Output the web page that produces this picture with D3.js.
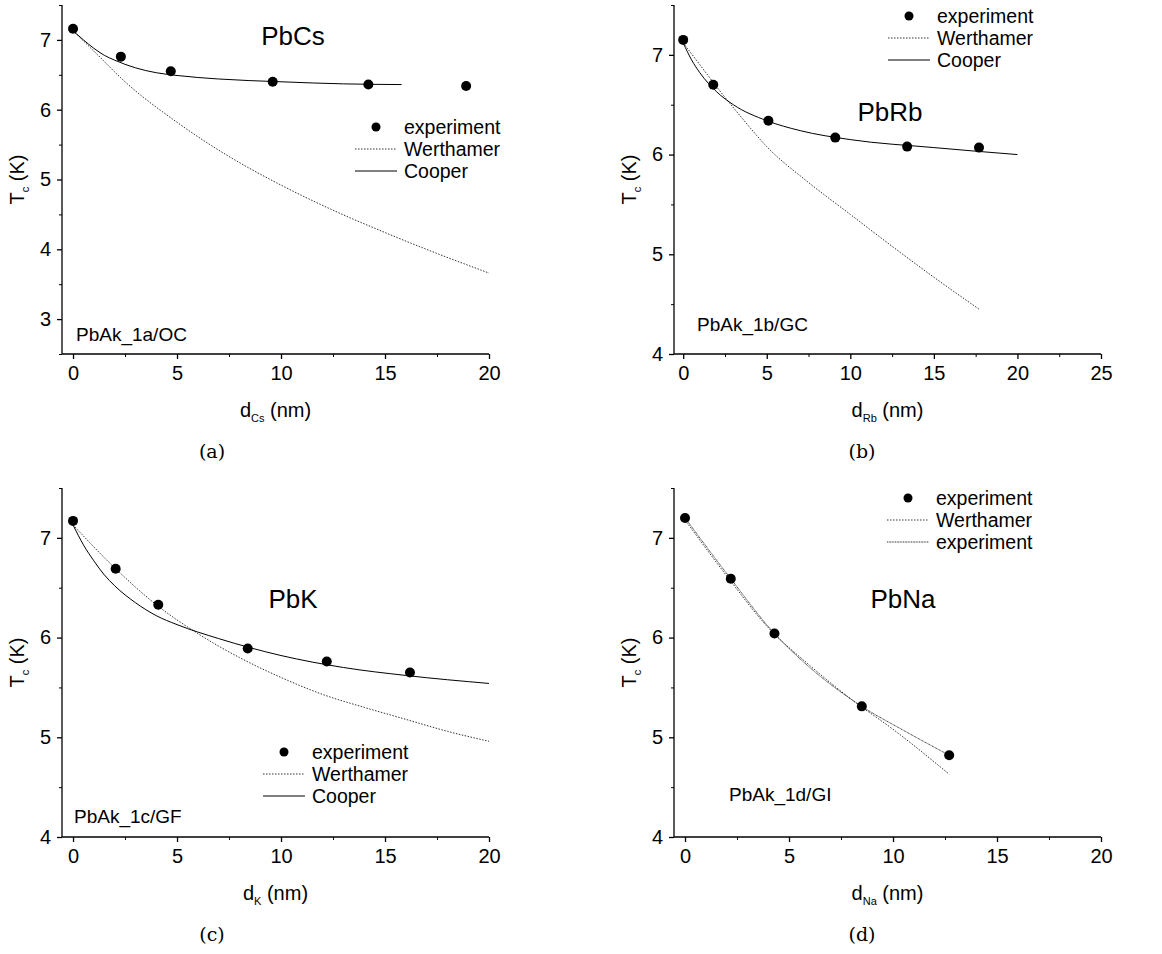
<!DOCTYPE html>
<html><head><meta charset="utf-8">
<script src="https://cdn.jsdelivr.net/npm/d3@7"></script>
<style>body{margin:0;background:#fff}</style>
</head><body>
<svg id="fig" width="1162" height="954"></svg>
<script>
// panel (a) PbCs
var expA = [[0,7.16],[2.3,6.76],[4.7,6.55],[9.6,6.40],[14.2,6.36],[18.9,6.34]];
var werA = [[0,7.13],[1,6.84],[2.5,6.4],[5,5.82],[7.5,5.33],[10,4.92],[12.5,4.56],[15,4.24],[17.5,3.94],[20,3.66]];
var coopA = [[0,7.13],[0.5,7.0],[1,6.88],[1.5,6.78],[2,6.71],[3,6.6],[4,6.53],[5,6.49],[7,6.44],[10,6.40],[13,6.37],[15.8,6.36]];
// panel (b) PbRb
var expB = [[0,7.15],[1.8,6.70],[5.1,6.34],[9.1,6.17],[13.4,6.08],[17.7,6.07]];
var werB = [[0,7.12],[1,6.9],[2,6.68],[3.5,6.37],[5,6.08],[7.5,5.72],[10,5.40],[12.5,5.08],[15,4.77],[17.7,4.45]];
var coopB = [[0,7.12],[0.5,6.95],[1,6.82],[2,6.63],[3,6.5],[5,6.34],[7,6.24],[10,6.15],[15,6.07],[20,6.0]];
// panel (c) PbK
var expC = [[0,7.17],[2.05,6.69],[4.1,6.33],[8.4,5.89],[12.2,5.76],[16.2,5.65]];
var werC = [[0,7.13],[2,6.7],[4,6.33],[6,6.04],[8,5.8],[10,5.6],[12,5.43],[14,5.3],[16,5.18],[18,5.06],[20,4.96]];
var coopC = [[0,7.13],[0.5,6.93],[1,6.77],[1.5,6.63],[2,6.52],[3,6.35],[4,6.22],[5,6.13],[7,5.99],[10,5.82],[13,5.7],[16,5.62],[20,5.54]];
// panel (d) PbNa
var expD = [[0,7.2],[2.2,6.59],[4.3,6.04],[8.5,5.31],[12.7,4.82]];
var werD = [[0,7.18],[2,6.62],[4,6.1],[6,5.72],[8,5.38],[10,5.08],[12.7,4.63]];
var fitD = [[0,7.2],[2.2,6.59],[4.3,6.04],[6,5.7],[8.5,5.31],[10.5,5.07],[12.7,4.82]];

var panels = [
  {ox:62, oy:5, xd:[-0.53,20], xt:[0,5,10,15,20], yd:[2.5,7.5], yt:[3,4,5,6,7], sub:"Cs", title:"PbCs", tx:293, ty:45,
   note:"PbAk_1a/OC", nx:76, ny:341, lx:355, ly:127, cap:"(a)", capx:212,
   series:[{d:werA,dash:"1.5,1.5"},{d:coopA,dash:null}], exp:expA, leg:["experiment","Werthamer","Cooper"], legDash:["1.5,1.5",null]},
  {ox:674, oy:5, xd:[-0.55,25], xt:[0,5,10,15,20,25], yd:[4,7.5], yt:[4,5,6,7], sub:"Rb", title:"PbRb", tx:890, ty:121,
   note:"PbAk_1b/GC", nx:697, ny:331, lx:888, ly:16, cap:"(b)", capx:862,
   series:[{d:werB,dash:"1.5,1.5"},{d:coopB,dash:null}], exp:expB, leg:["experiment","Werthamer","Cooper"], legDash:["1.5,1.5",null]},
  {ox:62, oy:488, xd:[-0.53,20], xt:[0,5,10,15,20], yd:[4,7.5], yt:[4,5,6,7], sub:"K", title:"PbK", tx:293, ty:608,
   note:"PbAk_1c/GF", nx:74, ny:823, lx:263, ly:752, cap:"(c)", capx:212,
   series:[{d:werC,dash:"1.5,1.5"},{d:coopC,dash:null}], exp:expC, leg:["experiment","Werthamer","Cooper"], legDash:["1.5,1.5",null]},
  {ox:674, oy:488, xd:[-0.53,20], xt:[0,5,10,15,20], yd:[4,7.5], yt:[4,5,6,7], sub:"Na", title:"PbNa", tx:903, ty:608,
   note:"PbAk_1d/GI", nx:729, ny:801, lx:887, ly:498, cap:"(d)", capx:862,
   series:[{d:werD,dash:"1.5,1.5"},{d:fitD,dash:"1,0.6"}], exp:expD, leg:["experiment","Werthamer","experiment"], legDash:["1.5,1.5","1,0.6"]}
];

var W = 427, H = 349;
var svg = d3.select("#fig");
var font = "Arial, 'Liberation Sans', sans-serif";

panels.forEach(function(p) {
  var g = svg.append("g").attr("transform", `translate(${p.ox},${p.oy})`).style("font-family", font);
  var x = d3.scaleLinear().domain(p.xd).range([0, W]);
  var y = d3.scaleLinear().domain(p.yd).range([H, 0]);

  // minor ticks
  var xm = d3.range(0, p.xd[1] + 0.01, 2.5).filter(v => p.xt.indexOf(v) < 0);
  var ym = d3.range(Math.ceil(p.yd[0] * 2) / 2, p.yd[1] + 0.01, 0.5).filter(v => p.yt.indexOf(v) < 0);
  g.append("g").attr("transform", `translate(0,${H})`)
    .call(d3.axisBottom(x).tickValues(xm).tickSize(3).tickFormat(""))
    .call(a => a.select(".domain").remove());
  g.append("g").call(d3.axisLeft(y).tickValues(ym).tickSize(3).tickFormat(""))
    .call(a => a.select(".domain").remove());

  var xa = g.append("g").attr("transform", `translate(0,${H})`)
    .call(d3.axisBottom(x).tickValues(p.xt).tickFormat(d3.format("d")).tickSize(5).tickSizeOuter(0).tickPadding(7));
  var ya = g.append("g")
    .call(d3.axisLeft(y).tickValues(p.yt).tickFormat(d3.format("d")).tickSize(5).tickSizeOuter(0).tickPadding(6));
  [xa, ya].forEach(a => {
    a.selectAll("text").style("font-size", "20px").style("font-family", font).attr("fill", "#000");
    a.selectAll("line,path").attr("stroke", "#000").attr("stroke-width", 1.3);
  });
  xa.select(".domain").attr("d", `M0,0H${W}`);
  ya.select(".domain").attr("d", `M0,${H}V0`);

  var line = d3.line().x(d => x(d[0])).y(d => y(d[1])).curve(d3.curveMonotoneX);
  p.series.forEach(function(s) {
    g.append("path").datum(s.d).attr("d", line).attr("fill", "none")
      .attr("stroke", s.dash ? "#333" : "#000").attr("stroke-width", 1)
      .attr("stroke-dasharray", s.dash);
  });
  g.selectAll("circle.e").data(p.exp).join("circle").attr("class", "e")
    .attr("cx", d => x(d[0])).attr("cy", d => y(d[1])).attr("r", 5).attr("fill", "#000");

  // legend
  var lg = svg.append("g").attr("transform", `translate(${p.lx},${p.ly})`).style("font-family", font).style("font-size", "19.5px");
  lg.append("circle").attr("cx", 21).attr("cy", 0).attr("r", 4.5);
  lg.append("text").attr("x", 49).attr("y", 7).text(p.leg[0]);
  [1, 2].forEach(function(i) {
    lg.append("line").attr("x1", 0).attr("x2", 42).attr("y1", i * 22).attr("y2", i * 22)
      .attr("stroke", p.legDash[i - 1] ? "#333" : "#000").attr("stroke-dasharray", p.legDash[i - 1]);
    lg.append("text").attr("x", 49).attr("y", i * 22 + 7).text(p.leg[i]);
  });

  svg.append("text").attr("x", p.tx).attr("y", p.ty).attr("text-anchor", "middle")
    .style("font-family", font).style("font-size", "26px").text(p.title);
  svg.append("text").attr("x", p.nx).attr("y", p.ny)
    .style("font-family", font).style("font-size", "19px").text(p.note);

  // axis titles
  var xl = svg.append("text").attr("x", p.ox + x(p.xd[0] + (p.xd[1] - p.xd[0]) / 2)).attr("y", p.oy + H + 63)
    .attr("text-anchor", "middle").style("font-family", font).style("font-size", "20px");
  xl.append("tspan").text("d");
  xl.append("tspan").attr("dy", 5).style("font-size", "11px").text(p.sub);
  xl.append("tspan").attr("dy", -5).text(" (nm)");
  var yl = svg.append("text").attr("transform", `translate(${p.ox - 38},${p.oy + H / 2}) rotate(-90)`)
    .attr("text-anchor", "middle").style("font-family", font).style("font-size", "20px");
  yl.append("tspan").text("T");
  yl.append("tspan").attr("dy", 5).style("font-size", "11px").text("c");
  yl.append("tspan").attr("dy", -5).text(" (K)");

  svg.append("text").attr("x", p.capx).attr("y", p.oy + H + 104).attr("text-anchor", "middle")
    .style("font-family", "'DejaVu Serif', 'Liberation Serif', serif").style("font-size", "19px").text(p.cap);
});
</script>
</body></html>
